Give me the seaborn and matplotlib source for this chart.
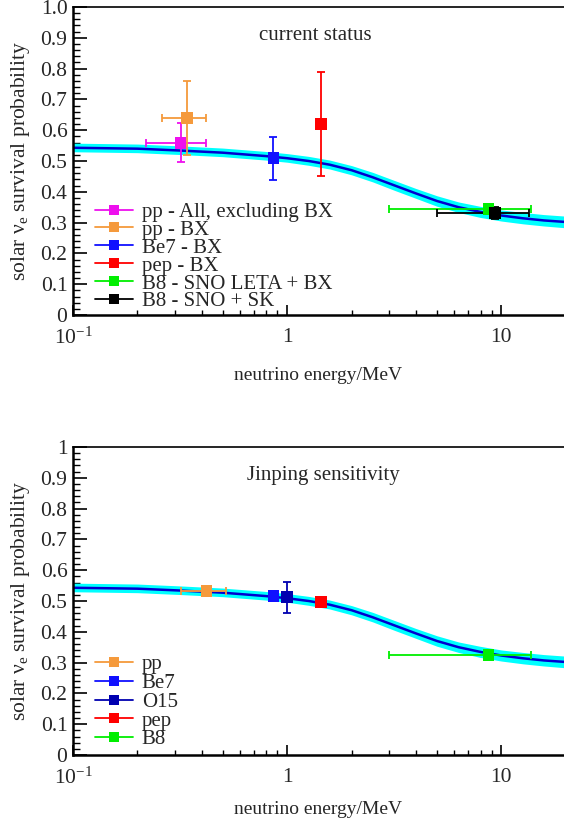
import numpy as np
import pandas as pd
import matplotlib
matplotlib.use("Agg")
import matplotlib.pyplot as plt
import seaborn as sns
from matplotlib.lines import Line2D
from matplotlib.ticker import MultipleLocator, LogLocator, NullFormatter, FixedLocator, FixedFormatter

# ---------------- data ----------------
curve_energy = [0.1, 0.2, 0.316, 0.5, 0.794, 1.0, 1.26, 1.58, 2.0, 2.51, 3.16, 3.98, 5.01, 6.31, 7.94, 10.0, 12.6, 15.8, 20.0]
curve_prob   = [0.543, 0.540, 0.534, 0.527, 0.516, 0.509, 0.500, 0.488, 0.470, 0.447, 0.421, 0.395, 0.370, 0.350, 0.335, 0.323, 0.314, 0.307, 0.302]
band_low     = [0.530, 0.527, 0.521, 0.514, 0.503, 0.496, 0.486, 0.474, 0.455, 0.432, 0.405, 0.379, 0.353, 0.333, 0.317, 0.305, 0.296, 0.289, 0.283]
band_high    = [0.558, 0.555, 0.549, 0.542, 0.531, 0.524, 0.515, 0.503, 0.485, 0.463, 0.437, 0.411, 0.387, 0.367, 0.353, 0.341, 0.333, 0.326, 0.321]

cur_labels   = ["pp - All, excluding BX", "pp - BX", "Be7 - BX", "pep - BX", "B8 - SNO LETA + BX", "B8 - SNO + SK"]
cur_colors   = ["#ee10ee", "#f59a3c", "#1010ff", "#ff0000", "#00ee00", "#000000"]
cur_energy   = [0.318, 0.340, 0.862, 1.44, 8.69, 9.35]
cur_prob     = [0.559, 0.640, 0.509, 0.620, 0.344, 0.332]
cur_prob_lo  = [0.496, 0.520, 0.438, 0.450, 0.329, 0.313]
cur_prob_hi  = [0.624, 0.760, 0.579, 0.790, 0.359, 0.350]
cur_energy_lo = [0.219, 0.259, 0.862, 1.44, 3.0, 5.0]
cur_energy_hi = [0.420, 0.420, 0.862, 1.44, 13.7, 13.5]

jp_labels    = ["pp", "Be7", "O15", "pep", "B8"]
jp_colors    = ["#f59a3c", "#1010ff", "#0000b0", "#ff0000", "#00ee00"]
jp_energy    = [0.42, 0.862, 1.0, 1.44, 8.69]
jp_prob      = [0.532, 0.517, 0.512, 0.496, 0.325]
jp_prob_lo   = [0.528, 0.512, 0.460, 0.486, 0.320]
jp_prob_hi   = [0.536, 0.522, 0.563, 0.506, 0.330]
jp_energy_lo = [0.318, 0.862, 1.0, 1.44, 3.0]
jp_energy_hi = [0.520, 0.862, 1.0, 1.44, 13.7]

x_tick_vals   = [0.1, 1, 10]
x_tick_labels = ["10$^{-1}$", "1", "10"]
y_tick_vals   = [0, 0.1, 0.2, 0.3, 0.4, 0.5, 0.6, 0.7, 0.8, 0.9, 1.0]
y_labels_top  = ["0", "0.1", "0.2", "0.3", "0.4", "0.5", "0.6", "0.7", "0.8", "0.9", "1.0"]
y_labels_bot  = ["0", "0.1", "0.2", "0.3", "0.4", "0.5", "0.6", "0.7", "0.8", "0.9", "1"]

# ---------------- style ----------------
sns.set_theme(style="ticks")
plt.rcParams["font.family"] = ["Liberation Serif", "DejaVu Serif"]
plt.rcParams["mathtext.fontset"] = "custom"
plt.rcParams["mathtext.rm"] = "Liberation Serif"
plt.rcParams["mathtext.it"] = "Liberation Serif:italic"

W, H = 564, 825
fig = plt.figure(figsize=(W / 100, H / 100), dpi=100)

def px_axes(left, top, right, bottom):
    return fig.add_axes([left / W, 1 - bottom / H, (right - left) / W, (bottom - top) / H])

ax_top = px_axes(73, 7, 564, 315)
ax_bot = px_axes(73, 447, 564, 755)

curve_df = pd.DataFrame({"E": curve_energy, "P": curve_prob})


def draw_panel(ax, labels, colors, E, P, Plo, Phi, Elo, Ehi, title, title_x, ylabels,
               leg_top, leg_spacing, xlabelpad):
    ax.fill_between(curve_energy, band_low, band_high, color="#00ffff", lw=0, zorder=1)
    sns.lineplot(data=curve_df, x="E", y="P", ax=ax, color="#0000d0", lw=1.8, zorder=2)
    for i in range(len(labels)):
        ax.errorbar([E[i]], [P[i]],
                    xerr=[[E[i] - Elo[i]], [Ehi[i] - E[i]]],
                    yerr=[[P[i] - Plo[i]], [Phi[i] - P[i]]],
                    fmt="none", ecolor=colors[i], elinewidth=1.3, capsize=3, capthick=1.3, zorder=3)
    pts = pd.DataFrame({"E": E, "P": P, "lab": labels})
    sns.scatterplot(data=pts, x="E", y="P", hue="lab", palette=dict(zip(labels, colors)),
                    marker="s", s=70, edgecolor="none", ax=ax, legend=False, zorder=4)
    ax.set_xscale("log")
    ax.set_xlim(0.1, 19.6)
    ax.set_ylim(0, 1)
    ax.xaxis.set_major_locator(FixedLocator(x_tick_vals))
    ax.xaxis.set_major_formatter(FixedFormatter(x_tick_labels))
    ax.xaxis.set_minor_locator(LogLocator(base=10, subs=np.arange(2, 10)))
    ax.xaxis.set_minor_formatter(NullFormatter())
    ax.yaxis.set_major_locator(FixedLocator(y_tick_vals))
    ax.yaxis.set_major_formatter(FixedFormatter(ylabels))
    ax.yaxis.set_minor_locator(MultipleLocator(0.02))
    ax.tick_params(axis="both", which="both", direction="in", color="black", labelsize=15.5, top=False, right=False)
    ax.tick_params(axis="y", which="major", length=10, width=1.2, pad=4)
    ax.tick_params(axis="y", which="minor", length=5, width=1.0)
    ax.tick_params(axis="x", which="major", length=7, width=1.2, pad=9)
    ax.tick_params(axis="x", which="minor", length=3.6, width=1.0)
    for s in ["left", "bottom"]:
        ax.spines[s].set_linewidth(1.8)
        ax.spines[s].set_color("black")
    ax.spines["top"].set_linewidth(1.2)
    ax.spines["top"].set_color("black")
    ax.spines["right"].set_visible(False)
    ax.set_xlabel("neutrino energy/MeV", fontsize=14, labelpad=xlabelpad)
    ax.set_ylabel("solar ν$_{\\rm e}$ survival probability", fontsize=15.5, labelpad=6)
    ax.text(title_x, 0.909, title, transform=ax.transAxes, ha="center", va="center", fontsize=15)
    handles = [Line2D([], [], color=c, marker="s", markersize=7, lw=1.3, markeredgewidth=0) for c in colors]
    ax.legend(handles, labels, loc="upper left", bbox_to_anchor=(22 / 491, leg_top),
              frameon=False, fontsize=15, handlelength=1.8, handletextpad=0.45,
              labelspacing=leg_spacing, borderpad=0, borderaxespad=0)


draw_panel(ax_top, cur_labels, cur_colors, cur_energy, cur_prob, cur_prob_lo, cur_prob_hi,
           cur_energy_lo, cur_energy_hi, "current status", 0.493, y_labels_top, 0.366, -0.08, 13.5)
draw_panel(ax_bot, jp_labels, jp_colors, jp_energy, jp_prob, jp_prob_lo, jp_prob_hi,
           jp_energy_lo, jp_energy_hi, "Jinping sensitivity", 0.509, y_labels_bot, 0.325, -0.04, 9)

fig.savefig("out.png", dpi=100)
